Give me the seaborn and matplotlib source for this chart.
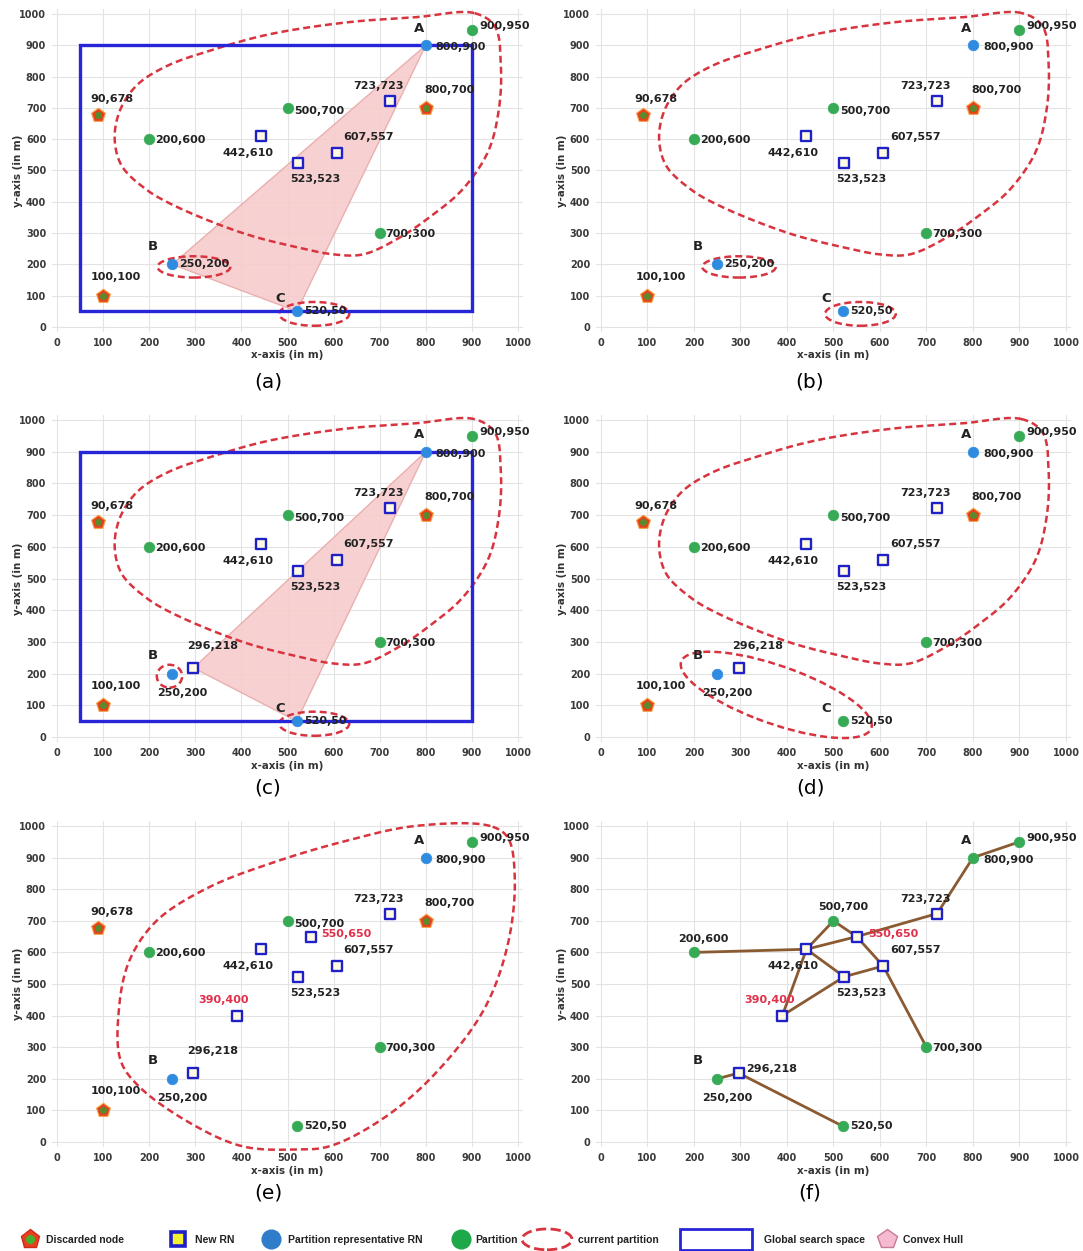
import numpy as np
import pandas as pd
import matplotlib
matplotlib.use("Agg")
import matplotlib.pyplot as plt
import matplotlib.patches as mpatches
from matplotlib.lines import Line2D
from matplotlib.legend_handler import HandlerPatch
import seaborn as sns

# ---------------- node data (metres) ----------------
discarded_x = [90, 100, 800]
discarded_y = [678, 100, 700]

partition_x = [200, 500, 700, 900]
partition_y = [600, 700, 300, 950]

rep_x = [800, 250, 520]
rep_y = [900, 200, 50]
rep_names = ["A", "B", "C"]

rn_x = [442, 523, 607, 723]
rn_y = [610, 523, 557, 723]

bridge_rn_x = [296]
bridge_rn_y = [218]

late_rn_x = [390, 550]
late_rn_y = [400, 650]

# global search space: x_min, y_min, x_max, y_max
search_space = [50, 50, 900, 900]

# relay tree of the final step (node ids are "x,y")
tree_from = ["900,950", "800,900", "723,723", "550,650", "442,610", "442,610",
             "500,700", "550,650", "607,557", "607,557", "523,523", "390,400",
             "390,400", "296,218", "296,218"]
tree_to = ["800,900", "723,723", "550,650", "442,610", "200,600", "500,700",
           "550,650", "607,557", "700,300", "523,523", "442,610", "523,523",
           "442,610", "250,200", "520,50"]

# partition outlines (control points of closed curves)
outline_main_x = [905, 780, 627, 460, 343, 240, 175, 138, 125, 140, 192, 254,
                  403, 520, 600, 664, 739, 813, 880, 935, 958, 963, 950]
outline_main_y = [1003, 990, 973, 935, 888, 835, 775, 697, 605, 516, 441, 388,
                  300, 255, 232, 232, 282, 356, 440, 560, 690, 830, 960]
outline_merged_x = [940, 776, 627, 478, 328, 216, 157, 134, 138, 179, 291, 403,
                    515, 590, 701, 813, 925, 978, 993, 978]
outline_merged_y = [1000, 1000, 953, 889, 805, 700, 574, 416, 258, 174, 58, -14,
                    -24, -14, 68, 205, 416, 626, 837, 963]

# oval partitions: centre x, centre y, width, height, angle (deg)
oval_b_wide = [297, 192, 158, 68, 0]
oval_b_small = [244, 192, 55, 72, 0]
oval_c = [558, 42, 152, 76, 0]
oval_bc = [377, 133, 462, 172, -29.5]

# ---------------- styling ----------------
GREEN = "#36aa55"
BLUE_RN = "#2f8be0"
SQ_EDGE = "#2020c8"
SQ_FACE = "#fffbe3"
RED_DISC = "#e8401e"
RED_LINE = "#d8343f"
RECT_BLUE = "#2626d8"
HULL_FACE = "#f7cccc"
HULL_EDGE = "#e8aaaa"
TREE = "#8a5a32"
TXT = "#222222"
RED_TXT = "#e0304a"

sns.set_theme(style="whitegrid", rc={
    "grid.color": "#e3e3e3", "grid.linewidth": 0.8,
    "axes.edgecolor": "white", "axes.facecolor": "white",
})
plt.rcParams["font.family"] = ["DejaVu Sans"]

label_offsets = {
    "90,678": (13, 16, "center"),
    "100,100": (13, 19, "center"),
    "800,700": (24, 18, "center"),
    "900,950": (7, 4, "left"),
    "800,900": (10, -2, "left"),
    "723,723": (-12, 15, "center"),
    "500,700": (7, -3, "left"),
    "200,600": (6, -1, "left"),
    "442,610": (-13, -17, "center"),
    "523,523": (17, -16, "center"),
    "607,557": (32, 16, "center"),
    "700,300": (6, -1, "left"),
    "250,200": (7, 0, "left"),
    "520,50": (7, 0, "left"),
    "296,218": (19, 22, "center"),
    "390,400": (-13, 16, "center"),
    "550,650": (11, 3, "left"),
}
letter_offsets = {"A": (-7, 17), "B": (-19, 18), "C": (-17, 13)}

Y_ASPECT = 0.68  # y metres look shorter than x metres on screen


def nid(x, y):
    return f"{x},{y}"


def closed_curve(xs, ys, n=24):
    """Centripetal Catmull-Rom loop through the control points."""
    pts = np.column_stack([xs, np.asarray(ys, float) * Y_ASPECT]).astype(float)
    m = len(pts)
    segs = []
    for i in range(m):
        p0, p1, p2, p3 = pts[i - 1], pts[i], pts[(i + 1) % m], pts[(i + 2) % m]
        t0 = 0.0
        t1 = t0 + np.linalg.norm(p1 - p0) ** 0.5
        t2 = t1 + np.linalg.norm(p2 - p1) ** 0.5
        t3 = t2 + np.linalg.norm(p3 - p2) ** 0.5
        t = np.linspace(t1, t2, n, endpoint=False)[:, None]
        a1 = (t1 - t) / (t1 - t0) * p0 + (t - t0) / (t1 - t0) * p1
        a2 = (t2 - t) / (t2 - t1) * p1 + (t - t1) / (t2 - t1) * p2
        a3 = (t3 - t) / (t3 - t2) * p2 + (t - t2) / (t3 - t2) * p3
        b1 = (t2 - t) / (t2 - t0) * a1 + (t - t0) / (t2 - t0) * a2
        b2 = (t3 - t) / (t3 - t1) * a2 + (t - t1) / (t3 - t1) * a3
        segs.append((t2 - t) / (t2 - t1) * b1 + (t - t1) / (t2 - t1) * b2)
    out = np.vstack(segs + [segs[0][:1]])
    return out[:, 0], out[:, 1] / Y_ASPECT


def dashed(ax, xs, ys):
    cx, cy = closed_curve(xs, ys)
    ax.plot(cx, cy, color=RED_LINE, lw=1.8, dashes=(2.8, 1.6), zorder=3,
            clip_on=False, solid_capstyle="butt")


def oval(ax, spec):
    cx, cy, w, h, ang = spec
    ax.add_patch(mpatches.Ellipse((cx, cy), w, h, angle=ang, fill=False,
                                  edgecolor=RED_LINE, lw=1.8,
                                  linestyle=(0, (2.8, 1.6)), zorder=3, clip_on=False))


def label(ax, x, y, text=None, off=None, color=TXT):
    text = text or nid(x, y)
    dx, dy, ha = off or label_offsets[text]
    ax.annotate(text, (x, y), xytext=(dx, dy), textcoords="offset pixels",
                ha=ha, va="center", fontsize=8, fontweight="bold", color=color,
                zorder=8, annotation_clip=False)


def scatter_kind(ax, xs, ys, kind):
    if not xs:
        return
    if kind == "partition":
        sns.scatterplot(x=xs, y=ys, ax=ax, marker="o", s=58, color=GREEN,
                        edgecolor=GREEN, linewidth=0.5, legend=False, zorder=6)
    elif kind == "rep":
        sns.scatterplot(x=xs, y=ys, ax=ax, marker="o", s=58, color=BLUE_RN,
                        edgecolor=BLUE_RN, linewidth=0.5, legend=False, zorder=6)
    elif kind == "rn":
        sns.scatterplot(x=xs, y=ys, ax=ax, marker="s", s=46, color=SQ_FACE,
                        edgecolor=SQ_EDGE, linewidth=1.7, legend=False, zorder=6)
    elif kind == "discarded":
        sns.scatterplot(x=xs, y=ys, ax=ax, marker="p", s=110, color=RED_DISC,
                        edgecolor="#f4a64a", linewidth=0.8, legend=False, zorder=6)
        sns.scatterplot(x=xs, y=ys, ax=ax, marker="o", s=26, color="#5a8a2a",
                        edgecolor="#5a8a2a", linewidth=0, legend=False, zorder=7)


panels = {
    "a": dict(reps=[0, 1, 2], extra_rn=[], red_rn=[], rect=True, hull=["800,900", "250,200", "520,50"],
              outlines=["main"], ovals=[oval_b_wide, oval_c], b_below=False, discarded=True),
    "b": dict(reps=[0, 1, 2], extra_rn=[], red_rn=[], rect=False, hull=None,
              outlines=["main"], ovals=[oval_b_wide, oval_c], b_below=False, discarded=True),
    "c": dict(reps=[0, 1, 2], extra_rn=["bridge"], red_rn=[], rect=True,
              hull=["800,900", "296,218", "520,50"],
              outlines=["main"], ovals=[oval_b_small, oval_c], b_below=True, discarded=True),
    "d": dict(reps=[0, 1], extra_rn=["bridge"], red_rn=[], rect=False, hull=None,
              outlines=["main"], ovals=[oval_bc], b_below=True, discarded=True),
    "e": dict(reps=[0, 1], extra_rn=["bridge"], red_rn=["late"], rect=False, hull=None,
              outlines=["merged"], ovals=[], b_below=True, discarded=True),
    "f": dict(reps=[], extra_rn=["bridge"], red_rn=["late"], rect=False, hull=None,
              outlines=[], ovals=[], b_below=True, discarded=False, tree=True),
}

outlines = {"main": (outline_main_x, outline_main_y),
            "merged": (outline_merged_x, outline_merged_y)}

coords = {}
for xs, ys in [(discarded_x, discarded_y), (partition_x, partition_y), (rep_x, rep_y),
               (rn_x, rn_y), (bridge_rn_x, bridge_rn_y), (late_rn_x, late_rn_y)]:
    for x, y in zip(xs, ys):
        coords[nid(x, y)] = (x, y)

fig = plt.figure(figsize=(10.83, 12.51), dpi=100)
W, H = 1083, 1251
col_geom = [(52.4, 470.2), (596.3, 474.3)]
row_geom = [(9.3, 322.4), (415.3, 326.5), (821.3, 325.4)]
caption_y = [382, 788, 1193]
caption_x = [268, 810]

for idx, key in enumerate("abcdef"):
    spec = panels[key]
    r, c = divmod(idx, 2)
    left, width = col_geom[c]
    top, height = row_geom[r]
    ax = fig.add_axes([left / W, 1 - (top + height) / H, width / W, height / H])

    # search space and hull underneath everything
    if spec["rect"]:
        x0, y0, x1, y1 = search_space
        ax.add_patch(mpatches.Rectangle((x0, y0), x1 - x0, y1 - y0, fill=False,
                                        edgecolor=RECT_BLUE, lw=2.4, zorder=4))
    if spec["hull"]:
        hx = [coords[k][0] for k in spec["hull"]]
        hy = [coords[k][1] for k in spec["hull"]]
        ax.fill(hx, hy, facecolor=HULL_FACE, edgecolor=HULL_EDGE, lw=1.0,
                alpha=0.9, zorder=1.5)

    for name in spec["outlines"]:
        dashed(ax, *outlines[name])
    for o in spec["ovals"]:
        oval(ax, o)

    # relay tree
    if spec.get("tree"):
        rows = []
        for e, (a, b) in enumerate(zip(tree_from, tree_to)):
            for k in (a, b):
                rows.append({"x": coords[k][0], "y": coords[k][1], "edge": e})
        sns.lineplot(data=pd.DataFrame(rows), x="x", y="y", units="edge",
                     estimator=None, sort=False, color=TREE, lw=2.0, ax=ax,
                     legend=False, zorder=2)

    # nodes
    if spec["discarded"]:
        scatter_kind(ax, discarded_x, discarded_y, "discarded")
        for x, y in zip(discarded_x, discarded_y):
            label(ax, x, y)

    green_x = list(partition_x)
    green_y = list(partition_y)
    blue_x, blue_y = [], []
    for i in range(3):
        if i in spec["reps"]:
            blue_x.append(rep_x[i]); blue_y.append(rep_y[i])
        else:
            green_x.append(rep_x[i]); green_y.append(rep_y[i])
    scatter_kind(ax, green_x, green_y, "partition")
    scatter_kind(ax, blue_x, blue_y, "rep")

    sq_x, sq_y = list(rn_x), list(rn_y)
    if "bridge" in spec["extra_rn"]:
        sq_x += bridge_rn_x; sq_y += bridge_rn_y
    red_keys = []
    if "late" in spec["red_rn"]:
        sq_x += late_rn_x; sq_y += late_rn_y
        red_keys = [nid(x, y) for x, y in zip(late_rn_x, late_rn_y)]
    scatter_kind(ax, sq_x, sq_y, "rn")

    overrides = {}
    if spec["b_below"]:
        overrides["250,200"] = (10, -19, "center")
    if key == "f":
        overrides.update({"200,600": (9, 13, "center"), "500,700": (10, 14, "center"),
                          "296,218": (8, 4, "left")})

    for x, y in zip(green_x + blue_x + sq_x, green_y + blue_y + sq_y):
        k = nid(x, y)
        label(ax, x, y, off=overrides.get(k),
              color=RED_TXT if k in red_keys else TXT)

    # partition letters
    shown = ["A", "B", "C"] if key in "abcd" else ["A", "B"]
    for name, x, y in zip(rep_names, rep_x, rep_y):
        if name in shown:
            dx, dy = letter_offsets[name]
            ax.annotate(name, (x, y), xytext=(dx, dy), textcoords="offset pixels",
                        ha="center", va="center", fontsize=9.5, fontweight="bold",
                        color=TXT, zorder=8)

    ax.set_xlim(-10, 1010)
    ax.set_ylim(-15, 1015)
    ax.set_xticks(range(0, 1001, 100))
    ax.set_yticks(range(0, 1001, 100))
    ax.tick_params(length=0, pad=4.5, labelsize=7, labelcolor="#3a3a3a")
    for t in ax.get_xticklabels() + ax.get_yticklabels():
        t.set_fontweight("bold")
    ax.set_xlabel("x-axis (in m)", fontsize=7.4, fontweight="bold", color="#333333")
    ax.set_ylabel("y-axis (in m)", fontsize=7.4, fontweight="bold", color="#333333")
    ax.xaxis.set_label_coords(0.5, -0.058)
    ax.yaxis.set_label_coords(-0.062, 0.5)
    for s in ax.spines.values():
        s.set_visible(False)
    ax.grid(True, zorder=0)
    ax.set_axisbelow(True)

    fig.text(caption_x[c] / W, 1 - caption_y[r] / H, f"({key})", ha="center",
             va="center", fontsize=14.5, color="black")


# ---------------- legend row ----------------
def oval_handle(legend, orig_handle, xdescent, ydescent, width, height, fontsize):
    return mpatches.Ellipse(xy=(width / 2 - xdescent, height / 2 - ydescent),
                            width=width, height=15)


def box_handle(legend, orig_handle, xdescent, ydescent, width, height, fontsize):
    return mpatches.Rectangle((-xdescent, height / 2 - ydescent - 7.5), width, 15)


disc_h = (Line2D([], [], ls="none", marker="p", markersize=14, color=RED_DISC,
                 markeredgecolor="#d02a1a"),
          Line2D([], [], ls="none", marker="o", markersize=5.5, color="#44b030"))
newrn_h = Line2D([], [], ls="none", marker="s", markersize=10, markerfacecolor="#f3f030",
                 markeredgecolor=SQ_EDGE, markeredgewidth=2.6)
rep_h = Line2D([], [], ls="none", marker="o", markersize=13.5, color="#2f7cc8")
part_h = Line2D([], [], ls="none", marker="o", markersize=13.5, color="#1fa84a")
cur_h = mpatches.Patch(facecolor="none", edgecolor=RED_LINE, linestyle="--", linewidth=2)
glob_h = mpatches.Patch(facecolor="white", edgecolor=RECT_BLUE, linewidth=2)
hull_h = Line2D([], [], ls="none", marker="p", markersize=15, markerfacecolor="#f5b9d0",
                markeredgecolor="#c87a9a", markeredgewidth=1.0)

fs = 7.5
em = fs * 100 / 72
legend_items = [
    (disc_h, "Discarded node", 30 - em, 2.0, 0.5, {}),
    (newrn_h, "New RN", 178 - em, 2.0, 0.6, {}),
    (rep_h, "Partition representative RN", 271 - em, 2.0, 0.6, {}),
    (part_h, "Partition", 461 - em, 2.0, 0.4, {}),
    (cur_h, "current partition", 522, 50 / em, 0.6, {mpatches.Patch: HandlerPatch(patch_func=oval_handle)}),
    (glob_h, "Global search space", 680, 72 / em, 1.2, {mpatches.Patch: HandlerPatch(patch_func=box_handle)}),
    (hull_h, "Convex Hull", 887 - em, 2.0, 0.5, {}),
]
leg_y = 1 - 1240 / H
for handle, text, x_px, hl, pad, hmap in legend_items:
    kw = dict(handles=[handle], labels=[text], loc="center left",
              bbox_to_anchor=(x_px / W, leg_y), frameon=False, borderpad=0,
              borderaxespad=0, handlelength=hl, handletextpad=pad,
              prop={"size": fs, "weight": "bold", "family": "Liberation Sans"},
              labelcolor="#222222")
    if hmap:
        kw["handler_map"] = hmap
    fig.legend(**kw)

fig.savefig("out.png", dpi=100)
